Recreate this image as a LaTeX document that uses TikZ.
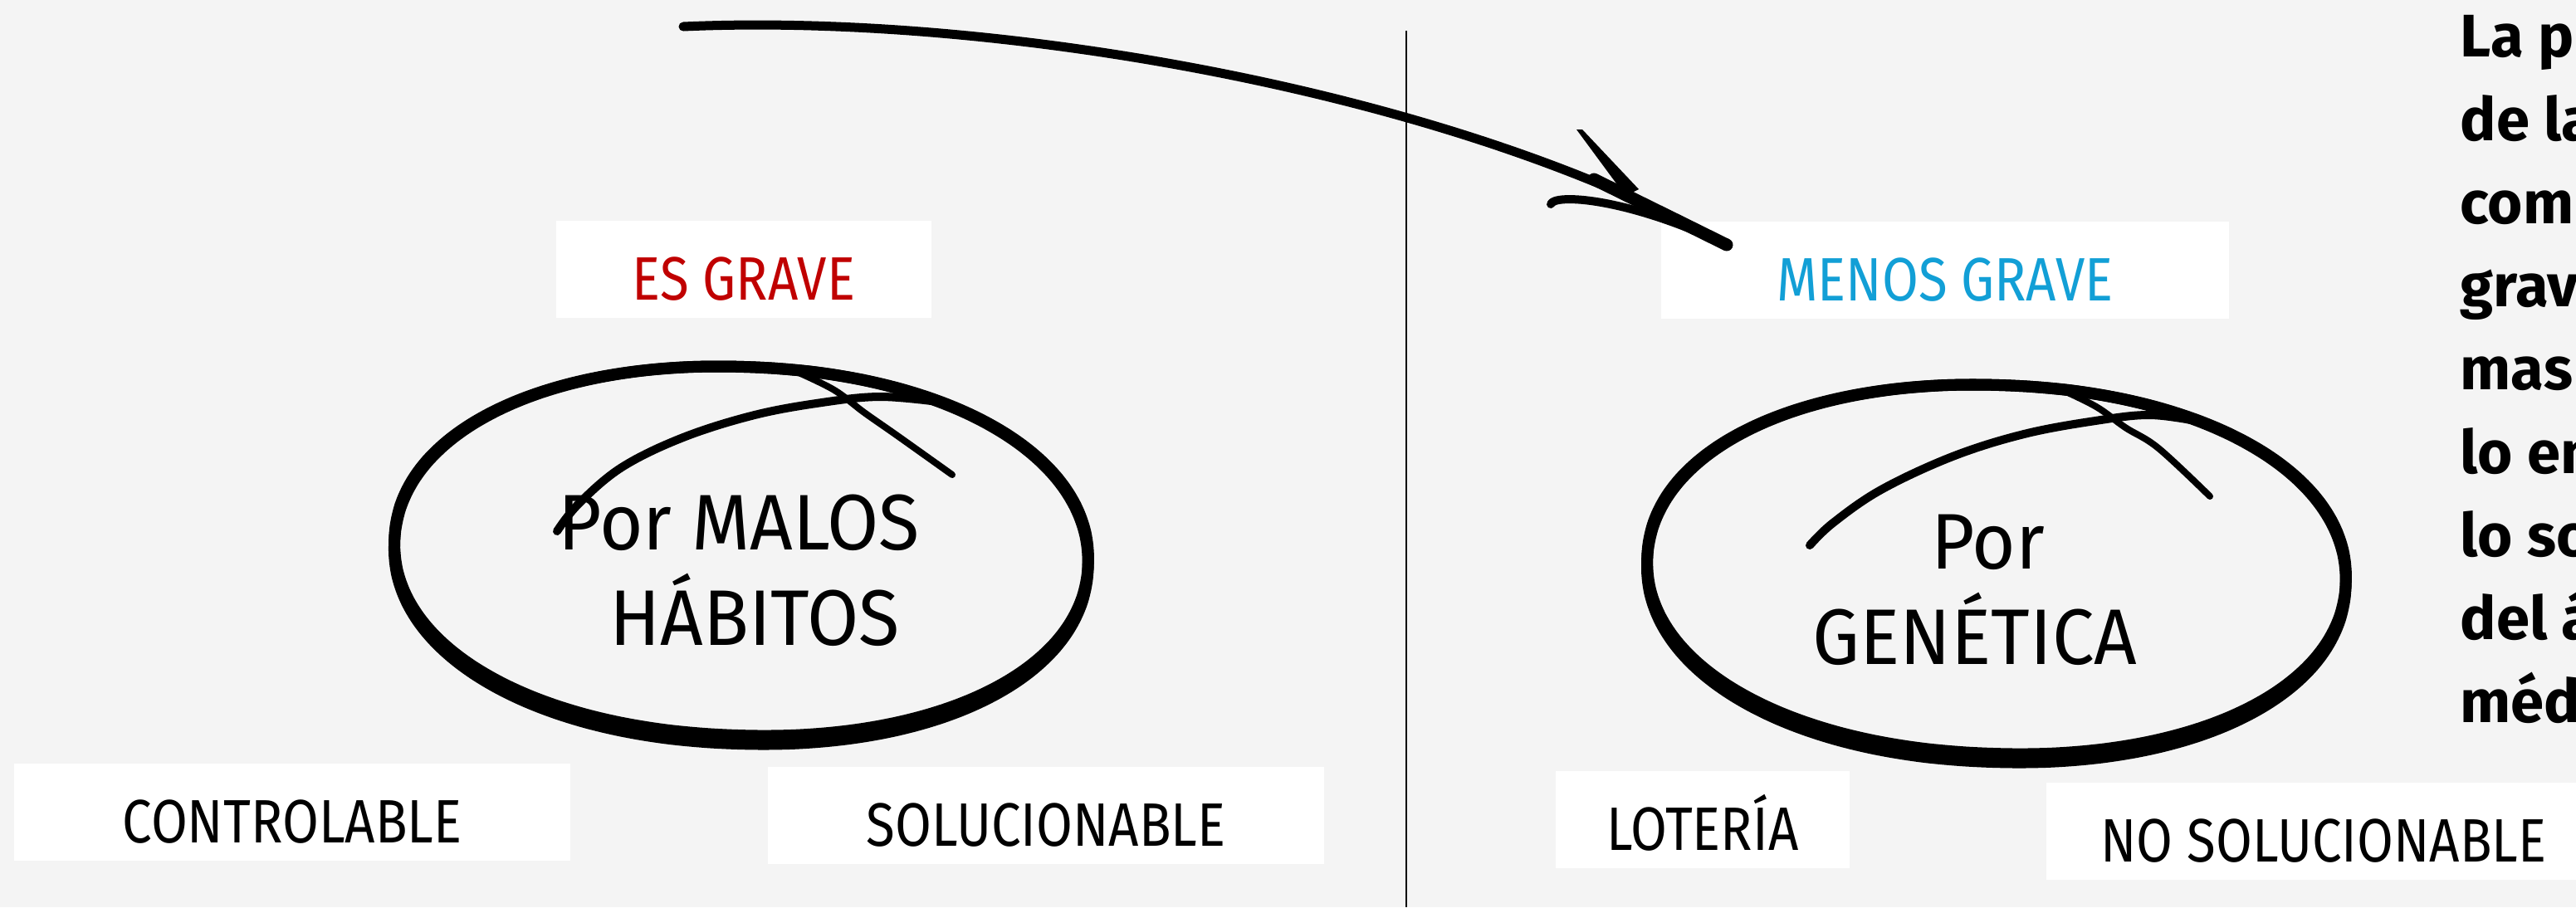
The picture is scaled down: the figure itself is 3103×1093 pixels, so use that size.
\documentclass[tikz,border=0pt]{standalone}
\usepackage{fontspec}
\setmainfont{Fira Sans}
\newfontfamily\narrowfont[FakeStretch=0.86]{Fira Sans}
\newfontfamily\circlefont[FakeStretch=0.95]{Fira Sans}
\usetikzlibrary{positioning}

\definecolor{paper}{HTML}{F4F4F4}
\definecolor{gravered}{HTML}{C00000}
\definecolor{menosblue}{HTML}{129FD6}

\begin{document}
\begin{tikzpicture}[
    x=0.01cm, y=-0.01cm,
    tag/.style={fill=white, inner sep=0pt, anchor=base, text height=0.95cm, text depth=0.22cm, font=\narrowfont\fontsize{21}{25}\selectfont},
    cause/.style={align=center, inner sep=0pt, font=\circlefont\fontsize{27}{32.7}\selectfont},
    pen/.style={line width=0.14cm, line cap=round, line join=round},
    note/.style={anchor=north west, align=left, inner sep=0pt, font=\bfseries\fontsize{20.6}{28.5}\selectfont}
]

% Background
\fill[paper] (0,0) rectangle (3103,1093);
\useasboundingbox (0,0) rectangle (3103,1093);

% Divider
\coordinate (divtop) at (1694,37);
\coordinate (divbottom) at (1694,1093);
\draw[line width=0.02cm] (divtop) -- (divbottom);

% Labels
\node[tag, minimum width=4.52cm, text=gravered] (esgrave) at (896,361) {ES GRAVE};
\node[tag, minimum width=6.84cm, text=menosblue] (menosgrave) at (2343,362) {MENOS GRAVE};
\node[tag, minimum width=6.70cm] (controlable) at (352,1015) {CONTROLABLE};
\node[tag, minimum width=6.69cm] (solucionable) at (1260,1019) {SOLUCIONABLE};
\node[tag, minimum width=3.54cm] (loteria) at (2051,1024) {LOTERÍA};
\node[tag, minimum width=6.68cm] (nosolucionable) at (2799,1038) {NO SOLUCIONABLE};

% Causes
\node[cause] (malos) at (890,687) {Por MALOS\\\hspace*{0.4em}HÁBITOS};
\node[cause] (genetica) at (2379,711) {\hspace*{0.33em}Por\\GENÉTICA};

% Side note (cut at the page edge)
\node[note] (nota) at (2963,18) {La p\\de la\\com\\grav\\mas\\lo en\\lo so\\del á\\méd};

% Left ring
\begin{scope}[rotate around={-2:(893,664)}]
\draw[pen] plot[smooth cycle, domain=0.5:357.5, samples=120, variable=\t]
  ({893+418*pow(abs(cos(\t)),0.95)*sign(cos(\t))}, {664+222*pow(abs(sin(\t)),0.95)*sign(sin(\t))});
\draw[pen] plot[smooth cycle, domain=0.5:357.5, samples=120, variable=\t]
  ({893+418*pow(abs(cos(\t)),0.95)*sign(cos(\t))}, {669+227*pow(abs(sin(\t)),0.95)*sign(sin(\t))});
\end{scope}
\draw[pen, line width=0.1cm] plot[smooth, tension=0.6] coordinates {(671,640) (697,607) (749,563) (823,527) (909,500) (990,485) (1060,478) (1130,484)};
\draw[pen, line width=0.08cm] plot[smooth, tension=0.6] coordinates {(960,448) (1005,470) (1041,497) (1081,525) (1147,572)};

% Right ring
\begin{scope}[rotate around={-2:(2405,686)}]
\draw[pen] plot[smooth cycle, domain=0.5:357.5, samples=120, variable=\t]
  ({2405+421*pow(abs(cos(\t)),0.95)*sign(cos(\t))}, {686+222*pow(abs(sin(\t)),0.95)*sign(sin(\t))});
\draw[pen] plot[smooth cycle, domain=0.5:357.5, samples=120, variable=\t]
  ({2405+421*pow(abs(cos(\t)),0.95)*sign(cos(\t))}, {691+227*pow(abs(sin(\t)),0.95)*sign(sin(\t))});
\end{scope}
\draw[pen, line width=0.1cm] plot[smooth, tension=0.6] coordinates {(2180,657) (2208,630) (2266,590) (2352,550) (2438,523) (2524,507) (2590,500) (2650,508)};
\draw[pen, line width=0.08cm] plot[smooth, tension=0.6] coordinates {(2480,468) (2525,490) (2560,515) (2600,540) (2662,598)};

% Arrow
\coordinate (arrowstart) at (823,32);
\coordinate (arrowtip) at (2080,295);
\draw[pen, line width=0.11cm] (arrowstart) .. controls (1200,15) and (1750,110) .. (arrowtip);
\draw[pen, line width=0.15cm] (1920,216) -- (arrowtip);
\fill (1899,156) -- (1906,156) -- (1974,228) -- (1958,236) -- cycle;
\draw[pen, line width=0.1cm] (1868,246) .. controls (1872,233) and (1960,238) .. (arrowtip);

\end{tikzpicture}
\end{document}
